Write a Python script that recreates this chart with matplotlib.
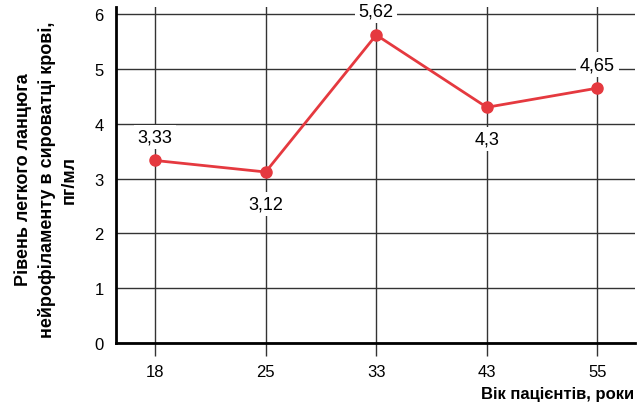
import matplotlib
matplotlib.use("Agg")
import matplotlib.pyplot as plt

ages = ["18", "25", "33", "43", "55"]
values = [3.33, 3.12, 5.62, 4.3, 4.65]
labels = ["3,33", "3,12", "5,62", "4,3", "4,65"]
label_pos = ["above", "below", "above", "below", "above"]

plt.rcParams['font.family'] = ['Liberation Sans', 'DejaVu Sans']

fig = plt.figure(figsize=(6.41, 4.06), dpi=100)
ax = fig.add_axes([116/641, 1 - 344/406, (635-116)/641, (344-8)/406])

x = list(range(len(ages)))
ax.set_xlim(-0.353, 4.34)
ax.set_ylim(0, 6.13)
ax.set_yticks([0, 1, 2, 3, 4, 5, 6])
ax.set_xticks(x)
ax.set_xticklabels(ages)
ax.grid(True, color="#333333", linewidth=1.0)
ax.set_axisbelow(True)
for s in ["top", "right"]:
    ax.spines[s].set_visible(False)
for s in ["left", "bottom"]:
    ax.spines[s].set_linewidth(2)
    ax.spines[s].set_color("black")
ax.tick_params(axis="x", length=9, width=1, color="#333333", labelsize=12, pad=6)
ax.tick_params(axis="y", length=0, labelsize=12, pad=9)

ax.plot(x, values, color="#e5393f", linewidth=2, marker="o", markersize=8, zorder=3)
for xi, v, lab, pos in zip(x, values, labels, label_pos):
    dy = 17 if pos == "above" else -23
    ax.annotate(lab, (xi, v), xytext=(0, dy), textcoords="offset points",
                ha="center", va="center", fontsize=13,
                bbox=dict(boxstyle="square,pad=0.2", fc="white", ec="none"), zorder=4)

fig.text(46/641, 1 - 180/406, "Рівень легкого ланцюга\nнейрофіламенту в сироватці крові,\nпг/мл",
         rotation=90, ha="center", va="center", fontsize=13, fontweight="bold", linespacing=1.4)
fig.text(634/641, 1 - 395/406, "Вік пацієнтів, роки", ha="right", va="center",
         fontsize=12, fontweight="bold")

fig.savefig("out.png", dpi=100)
